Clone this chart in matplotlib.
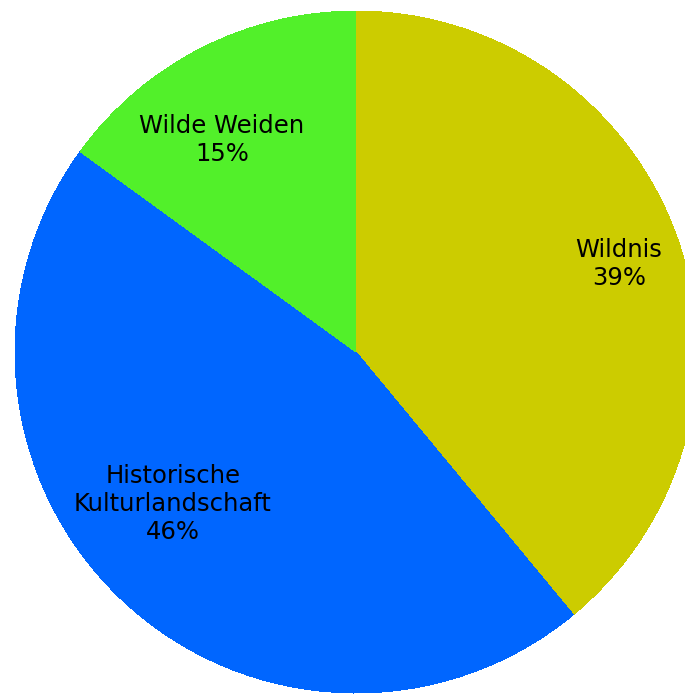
import matplotlib
matplotlib.use("Agg")
import matplotlib.pyplot as plt

labels = ["Wildnis", "Historische\nKulturlandschaft", "Wilde Weiden"]
values = [39, 46, 15]
colors = ["#CCCC00", "#0066FF", "#52F02A"]

W, H = 685, 694
fig = plt.figure(figsize=(W / 100, H / 100), dpi=100)
ax = fig.add_axes([0, 0, 1, 1])

cx, cy, r = 356, H - 352, 341
ax.pie(values, colors=colors, startangle=90, counterclock=False,
       center=(cx, cy), radius=r, frame=True,
       wedgeprops=dict(linewidth=0, antialiased=False))
ax.set_xlim(0, W)
ax.set_ylim(0, H)
ax.set_aspect("equal")
ax.axis("off")

label_pos = [(619, 264), (173, 504), (222, 140)]
for lab, v, (x, y) in zip(labels, values, label_pos):
    ax.text(x, H - y, f"{lab}\n{v}%", ha="center", va="center",
            fontsize=17.5, family="DejaVu Sans", color="black",
            linespacing=1.2)

fig.savefig("out.png", dpi=100)
